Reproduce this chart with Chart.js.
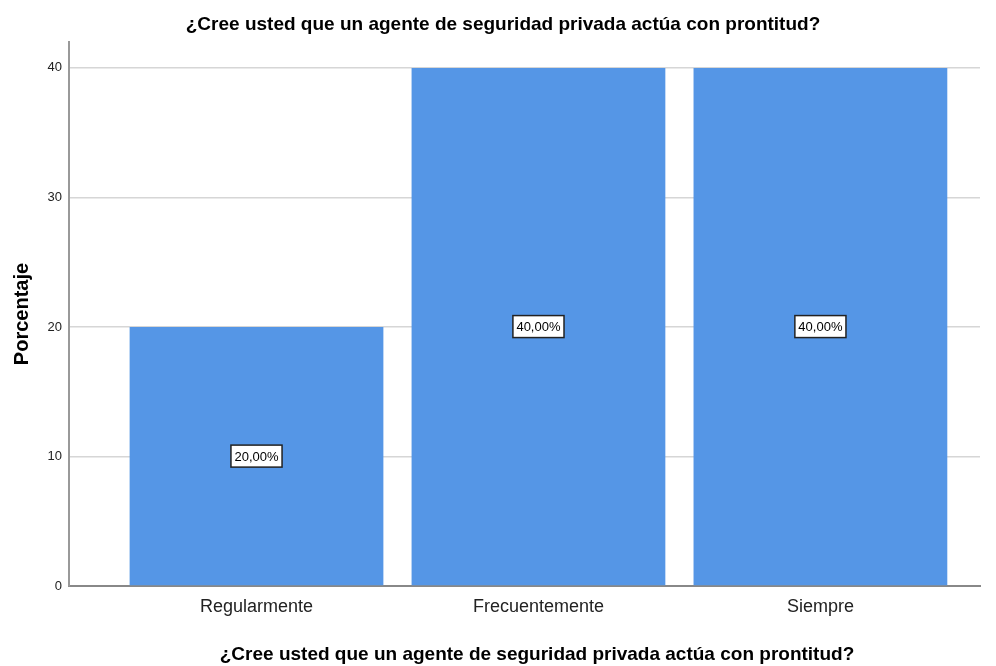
<!DOCTYPE html>
<html>
<head>
<meta charset="utf-8">
<script src="https://cdn.jsdelivr.net/npm/chart.js@4.4.1/dist/chart.umd.min.js"></script>
<style>
  html, body { margin: 0; padding: 0; background: #fff; }
  #wrap { width: 996px; height: 666px; }
</style>
</head>
<body>
<div id="wrap"><canvas id="chart-bar"></canvas></div>
<script>
// data
const categories = ['Regularmente', 'Frecuentemente', 'Siempre'];
const porcentajes = [20, 40, 40];
const yTicks = [0, 10, 20, 30, 40];
const chartTitle = '¿Cree usted que un agente de seguridad privada actúa con prontitud?';

const FONT = "'Liberation Sans', Arial, sans-serif";

// white boxed percentage labels in the middle of each bar
const boxLabels = {
  id: 'boxLabels',
  afterDatasetsDraw(chart) {
    const ctx = chart.ctx;
    const meta = chart.getDatasetMeta(0);
    ctx.save();
    ctx.font = '13px ' + FONT;
    ctx.textAlign = 'center';
    ctx.textBaseline = 'middle';
    meta.data.forEach((bar, i) => {
      const txt = porcentajes[i].toFixed(2).replace('.', ',') + '%';
      const cx = bar.x;
      const cy = (bar.y + bar.base) / 2;
      const w = ctx.measureText(txt).width + 7;
      const h = 22;
      ctx.fillStyle = '#ffffff';
      ctx.fillRect(cx - w / 2, cy - h / 2, w, h);
      ctx.strokeStyle = '#222222';
      ctx.lineWidth = 1.5;
      ctx.strokeRect(cx - w / 2, cy - h / 2, w, h);
      ctx.fillStyle = '#000000';
      ctx.fillText(txt, cx, cy + 1);
    });
    ctx.restore();
  }
};

// chart title on top and x axis title at the bottom
const titles = {
  id: 'titles',
  afterDraw(chart) {
    const ctx = chart.ctx;
    ctx.save();
    ctx.font = 'bold 19px ' + FONT;
    ctx.fillStyle = '#000';
    ctx.textAlign = 'center';
    ctx.textBaseline = 'middle';
    ctx.fillText(chartTitle, 503, 25);
    ctx.fillText(chartTitle, 537, 655);
    ctx.restore();
  }
};

const dataBar = {
  datasets: [{
    data: porcentajes.map((v, i) => ({ x: i, y: v })),
    backgroundColor: 'rgb(85, 150, 230)',
    borderWidth: 0,
    barPercentage: 0.9,
    categoryPercentage: 1
  }]
};

const configBar = {
  type: 'bar',
  data: dataBar,
  options: {
    responsive: true,
    maintainAspectRatio: false,
    animation: false,
    layout: { padding: { left: 0, right: 16, top: 42, bottom: 0 } },
    plugins: {
      legend: { display: false },
      tooltip: { enabled: false },
      title: { display: false }
    },
    scales: {
      x: {
        type: 'linear',
        offset: false,
        min: -0.665,
        max: 2.566,
        afterBuildTicks(scale) {
          scale.ticks = categories.map((c, i) => ({ value: i }));
        },
        afterFit(scale) { scale.height = 80; },
        grid: { display: false, drawTicks: false, offset: false },
        border: { display: true, color: '#888888', width: 2 },
        ticks: {
          padding: 10,
          color: '#222',
          font: { family: FONT, size: 18 },
          callback: v => categories[v] ?? ''
        }
      },
      y: {
        min: 0,
        max: 42,
        afterBuildTicks(scale) {
          scale.ticks = yTicks.map(v => ({ value: v }));
        },
        afterFit(scale) { scale.width = 69; },
        grid: {
          drawTicks: false,
          color: ctx => ctx.tick && ctx.tick.value === 0 ? 'rgba(0,0,0,0)' : '#d6d6d6',
          lineWidth: 1.5
        },
        border: { display: true, color: '#999999', width: 2 },
        ticks: {
          padding: 7,
          color: '#222',
          font: { family: FONT, size: 13 }
        },
        title: {
          display: true,
          text: 'Porcentaje',
          color: '#000',
          font: { family: FONT, size: 20, weight: 'bold' },
          padding: { top: 10, bottom: 0 }
        }
      }
    }
  },
  plugins: [boxLabels, titles]
};

const chartBar = new Chart(document.getElementById('chart-bar'), configBar);
</script>
</body>
</html>
